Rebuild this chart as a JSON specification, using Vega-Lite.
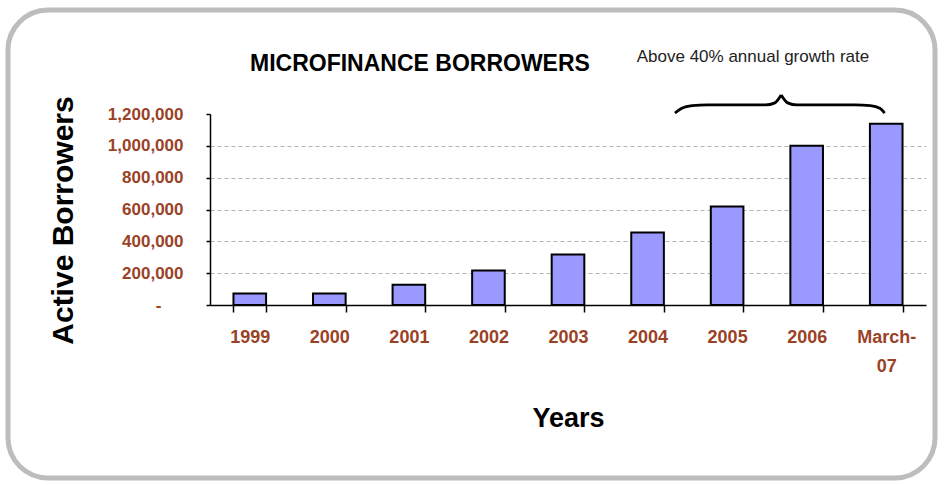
{
  "$schema": "https://vega.github.io/schema/vega-lite/v6.json",
  "autosize": {"type": "none"},
  "padding": {"left": 8, "top": 10, "right": 10, "bottom": 7},
  "width": 927,
  "height": 468,
  "background": "white",
  "title": {
    "text": "MICROFINANCE BORROWERS",
    "anchor": "start",
    "frame": "group",
    "font": "Liberation Sans",
    "fontWeight": "bold",
    "fontSize": 23,
    "color": "black",
    "dx": 242,
    "dy": 84,
    "offset": 0,
    "baseline": "alphabetic"
  },
  "datasets": {
    "borrowers": [
      {"year": "1999", "borrowers": 73000},
      {"year": "2000", "borrowers": 73000},
      {"year": "2001", "borrowers": 127000},
      {"year": "2002", "borrowers": 216000},
      {"year": "2003", "borrowers": 318000},
      {"year": "2004", "borrowers": 456000},
      {"year": "2005", "borrowers": 619000},
      {"year": "2006", "borrowers": 1000000},
      {"year": "March-07", "borrowers": 1138000}
    ],
    "brace": [
      {"part": "left", "pos": 5.845, "borrowers": 1206000},
      {"part": "left", "pos": 5.93, "borrowers": 1236000},
      {"part": "left", "pos": 6.06, "borrowers": 1252000},
      {"part": "left", "pos": 6.25, "borrowers": 1257000},
      {"part": "left", "pos": 6.98, "borrowers": 1257000},
      {"part": "left", "pos": 7.1, "borrowers": 1270000},
      {"part": "left", "pos": 7.18, "borrowers": 1319000},
      {"part": "right", "pos": 7.18, "borrowers": 1319000},
      {"part": "right", "pos": 7.26, "borrowers": 1270000},
      {"part": "right", "pos": 7.38, "borrowers": 1257000},
      {"part": "right", "pos": 8.11, "borrowers": 1257000},
      {"part": "right", "pos": 8.3, "borrowers": 1252000},
      {"part": "right", "pos": 8.42, "borrowers": 1236000},
      {"part": "right", "pos": 8.48, "borrowers": 1206000}
    ],
    "note": [
      {"pos": 6.825, "borrowers": 1526700, "label": "Above 40% annual growth rate"}
    ]
  },
  "resolve": {"scale": {"x": "independent"}},
  "layer": [
    {
      "data": {"name": "borrowers"},
      "mark": {"type": "bar", "fill": "#9999ff", "stroke": "black", "strokeWidth": 2},
      "encoding": {
        "x": {
          "field": "year",
          "type": "ordinal",
          "sort": null,
          "scale": {"range": [202, 918], "paddingInner": 0.59, "paddingOuter": 0.295},
          "axis": {
            "title": "Years",
            "offset": -173,
            "labelAngle": 0,
            "tickSize": 7,
            "tickBand": "extent",
            "tickColor": "black",
            "tickWidth": 1.5,
            "domainColor": "black",
            "domainWidth": 1.5,
            "grid": false,
            "labelExpr": "datum.label == 'March-07' ? ['March-', '07'] : datum.label",
            "labelFont": "Liberation Sans",
            "labelFontWeight": "bold",
            "labelFontSize": 18,
            "labelColor": "#9a4226",
            "labelBaseline": "top",
            "labelPadding": 16,
            "labelLineHeight": 29,
            "titleFont": "Liberation Sans",
            "titleFontWeight": "bold",
            "titleFontSize": 27,
            "titleColor": "black",
            "titleBaseline": "alphabetic",
            "titleY": 121
          }
        },
        "y": {
          "field": "borrowers",
          "type": "quantitative",
          "scale": {"domain": [0, 1200000], "range": [295, 104], "nice": false, "zero": true},
          "axis": {
            "title": "Active Borrowers",
            "values": [0, 200000, 400000, 600000, 800000, 1000000, 1200000],
            "labelExpr": "datum.value == 0 ? '-' : format(datum.value, ',')",
            "offset": -202,
            "tickSize": 4,
            "tickColor": "black",
            "tickWidth": 1.5,
            "domainColor": "black",
            "domainWidth": 1.5,
            "labelPadding": {"condition": {"test": "datum.value === 0", "value": 45}, "value": 23},
            "labelFont": "Liberation Sans",
            "labelFontWeight": "bold",
            "labelFontSize": 17,
            "labelColor": "#9a4226",
            "grid": true,
            "gridDash": [4, 3],
            "gridColor": "#b4b4b4",
            "gridWidth": 1,
            "gridOpacity": {"condition": {"test": "datum.value === 0 || datum.value === 1200000", "value": 0}, "value": 1},
            "titleFont": "Liberation Sans",
            "titleFontWeight": "bold",
            "titleFontSize": 30,
            "titleColor": "black",
            "titleAngle": 270,
            "titleX": -147,
            "titleY": 210,
            "titleAlign": "center",
            "titleBaseline": "middle"
          }
        }
      }
    },
    {
      "data": {"name": "brace"},
      "mark": {"type": "line", "interpolate": "monotone", "stroke": "black", "strokeWidth": 2.8},
      "encoding": {
        "x": {"field": "pos", "type": "quantitative", "scale": {"domain": [0, 9], "range": [202, 918], "nice": false, "zero": false}, "axis": null},
        "y": {"field": "borrowers", "type": "quantitative", "scale": {"domain": [0, 1200000], "range": [295, 104], "nice": false, "zero": true}},
        "detail": {"field": "part"}
      }
    },
    {
      "data": {"name": "note"},
      "mark": {"type": "text", "font": "Liberation Sans", "fontSize": 17, "color": "#222222", "align": "center", "baseline": "alphabetic"},
      "encoding": {
        "x": {"field": "pos", "type": "quantitative", "scale": {"domain": [0, 9], "range": [202, 918], "nice": false, "zero": false}, "axis": null},
        "y": {"field": "borrowers", "type": "quantitative", "scale": {"domain": [0, 1200000], "range": [295, 104], "nice": false, "zero": true}},
        "text": {"field": "label"}
      }
    }
  ],
  "config": {
    "view": {"stroke": "#bdbdbd", "strokeWidth": 5, "cornerRadius": 40}
  }
}
